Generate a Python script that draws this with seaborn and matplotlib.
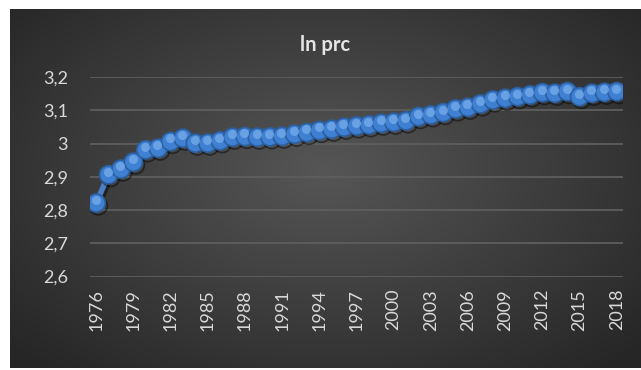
import numpy as np
import pandas as pd
import matplotlib
matplotlib.use("Agg")
import matplotlib.pyplot as plt
import matplotlib.transforms as mtransforms
import matplotlib.patheffects as pe
import seaborn as sns

years = list(range(1976, 2019))
values = [2.821, 2.906, 2.923, 2.944, 2.981, 2.986, 3.006, 3.016, 3.001, 3.001,
          3.008, 3.019, 3.021, 3.019, 3.020, 3.022, 3.028, 3.033, 3.039, 3.043,
          3.049, 3.053, 3.056, 3.061, 3.064, 3.068, 3.081, 3.086, 3.093, 3.104,
          3.109, 3.119, 3.131, 3.136, 3.141, 3.146, 3.153, 3.151, 3.156, 3.141,
          3.151, 3.154, 3.156]
tick_years = years[::3]
y_ticks = [2.6, 2.7, 2.8, 2.9, 3.0, 3.1, 3.2]
y_labels = ["2,6", "2,7", "2,8", "2,9", "3", "3,1", "3,2"]
title = "ln prc"

df = pd.DataFrame({"year": years, "value": values})

sns.set_theme(style="white")
plt.rcParams["font.family"] = ["Lato", "DejaVu Sans"]

W, H = 641, 370
fig = plt.figure(figsize=(W / 100, H / 100), dpi=100)
fig.patch.set_facecolor("white")

# dark gradient background panel
bg = fig.add_axes([10 / W, 2 / H, 631 / W, 359 / H], zorder=0)
gx, gy = np.meshgrid(np.linspace(-1, 1, 400), np.linspace(-1, 1, 240))
r = np.sqrt(((gx - 0.0) / 1.0) ** 2 + ((gy + 0.1) / 1.1) ** 2)
r = np.clip(r / 1.35, 0, 1)
c_in = np.array([0x56, 0x56, 0x56]) / 255
c_out = np.array([0x26, 0x26, 0x26]) / 255
img = c_in[None, None, :] * (1 - r[..., None]) + c_out[None, None, :] * r[..., None]
bg.imshow(img, aspect="auto", extent=[0, 1, 0, 1], interpolation="bilinear")
bg.set_axis_off()

ax = fig.add_axes([90 / W, 1 - 276.5 / H, 533 / W, 199.5 / H], zorder=1)
ax.set_facecolor("none")

sns.lineplot(data=df, x="year", y="value", ax=ax, color="#4a7fc4", linewidth=4,
             marker="o", markersize=13, markerfacecolor="#3f80d2",
             markeredgecolor="#2c5f9f", markeredgewidth=1.2,
             path_effects=[pe.SimpleLineShadow(offset=(1.5, -2), shadow_color="black", alpha=0.45),
                           pe.Normal()])
# specular highlight on the spheres
off = mtransforms.ScaledTranslation(-0.5 / 72, 2.2 / 72, fig.dpi_scale_trans)
ax.plot(df["year"], df["value"], linestyle="none", marker="o", markersize=6.5,
        markerfacecolor="#74aaea", markeredgewidth=0, alpha=0.8,
        transform=ax.transData + off)

ax.set_xlim(1975.5, 2018.5)
ax.set_ylim(2.6, 3.2)
ax.set_yticks(y_ticks)
ax.set_yticklabels(y_labels)
ax.set_xticks(tick_years)
ax.set_xticklabels([str(y) for y in tick_years], rotation=90)
ax.tick_params(axis="both", length=0, labelsize=13, labelcolor="#d9d9d9")
ax.tick_params(axis="x", pad=9)
ax.tick_params(axis="y", pad=16)
ax.grid(axis="y", color="#5e5e5e", linewidth=1.3)
ax.grid(axis="x", visible=False)
ax.set_axisbelow(True)
for s in ax.spines.values():
    s.set_visible(False)
ax.set_xlabel("")
ax.set_ylabel("")

fig.text(325 / W, 1 - 45 / H, title, ha="center", va="center", fontsize=14.5,
         fontweight="bold", color="#e6e6e6")

fig.savefig("out.png", dpi=100, facecolor="white")
